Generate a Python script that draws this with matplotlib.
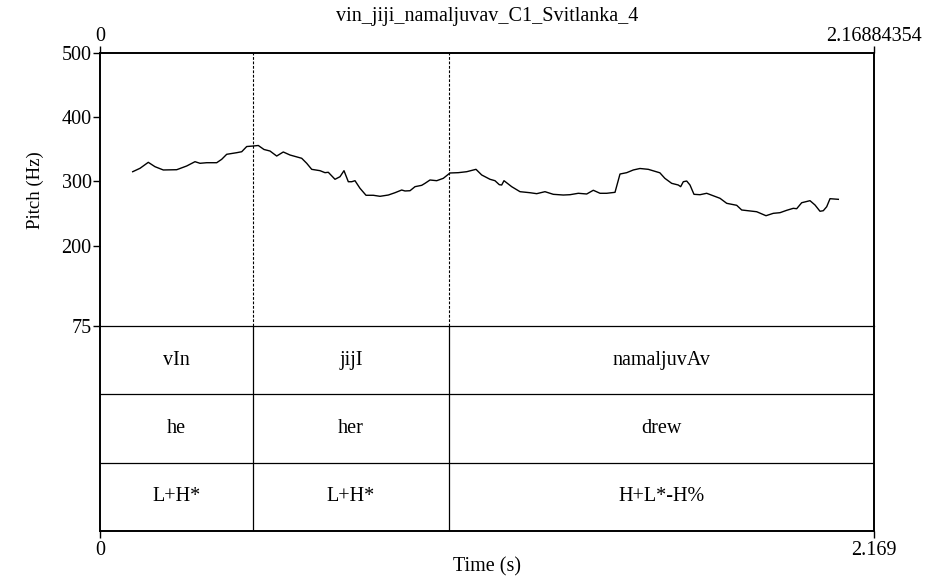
import matplotlib
matplotlib.use("Agg")
import matplotlib.pyplot as plt

# ---- data ----
title = "vin_jiji_namaljuvav_C1_Svitlanka_4"
t_start, t_end = 0.0, 2.16884354

pitch_time = [0.0916, 0.1121, 0.1353, 0.1541, 0.1774, 0.2149, 0.2429, 0.2662, 0.2802, 0.2990,
              0.3270, 0.3410, 0.3550, 0.3831, 0.3971, 0.4111, 0.4296, 0.4436, 0.4595, 0.4764,
              0.4951, 0.5136, 0.5324, 0.5652, 0.5792, 0.5932, 0.6165, 0.6305, 0.6397, 0.6585,
              0.6725, 0.6837, 0.6958, 0.7053, 0.7145, 0.7285, 0.7454, 0.7658, 0.7846, 0.8079,
              0.8266, 0.8454, 0.8546, 0.8687, 0.8827, 0.9014, 0.9107, 0.9247, 0.9435, 0.9620,
              0.9807, 1.0040, 1.0275, 1.0536, 1.0696, 1.0928, 1.1068, 1.1189, 1.1256, 1.1320,
              1.1536, 1.1769, 1.2049, 1.2237, 1.2469, 1.2702, 1.2982, 1.3170, 1.3403, 1.3638,
              1.3823, 1.4011, 1.4198, 1.4431, 1.4571, 1.4759, 1.4944, 1.5131, 1.5364, 1.5688,
              1.5828, 1.6019, 1.6204, 1.6271, 1.6345, 1.6440, 1.6532, 1.6644, 1.6813, 1.7000,
              1.7373, 1.7561, 1.7841, 1.7981, 1.8401, 1.8662, 1.8866, 1.9054, 1.9242, 1.9427,
              1.9522, 1.9662, 1.9895, 2.0035, 2.0175, 2.0268, 2.0363, 2.0456, 2.0689]
pitch_hz = [315.2, 320.5, 329.8, 323.0, 317.9, 318.3, 324.1, 330.8, 328.3, 329.2,
            329.2, 334.5, 342.3, 344.8, 346.3, 354.4, 355.2, 356.0, 349.8, 347.4,
            339.6, 345.9, 341.2, 336.1, 328.3, 318.9, 316.8, 313.7, 314.3, 303.4,
            307.4, 316.8, 299.6, 299.6, 301.2, 289.4, 278.5, 278.5, 276.9, 278.9,
            282.5, 286.7, 285.2, 285.6, 291.9, 294.0, 297.1, 302.3, 301.2, 304.9,
            313.2, 313.7, 315.2, 318.9, 310.1, 303.4, 301.2, 295.0, 294.5, 301.2,
            291.9, 284.1, 282.5, 281.0, 284.1, 280.0, 278.9, 279.4, 281.6, 280.5,
            286.3, 281.6, 281.6, 283.1, 311.6, 313.7, 317.9, 320.2, 318.9, 313.5,
            304.9, 297.1, 294.5, 291.9, 299.6, 300.7, 294.5, 280.0, 279.4, 281.6,
            273.8, 266.0, 262.9, 255.6, 252.9, 246.7, 250.4, 251.4, 255.1, 258.2,
            257.6, 266.9, 270.1, 263.4, 253.6, 254.5, 260.7, 273.2, 272.2]

boundaries = [0.4287, 0.9780]
tier1 = ["vIn", "jijI", "namaljuvAv"]
tier2 = ["he", "her", "drew"]
tier3 = ["L+H*", "L+H*", "H+L*-H%"]
pitch_ticks = [500, 400, 300, 200, 75]
ymin, ymax = 75, 500

# ---- figure ----
plt.rcParams['font.family'] = ['Liberation Serif', 'DejaVu Serif']
W, H = 929, 579
fig = plt.figure(figsize=(W / 100, H / 100), dpi=100)

L, R = 100 / W, 874 / W
top_px, mid_px, bot_px = 53, 326, 531
ax = fig.add_axes([L, 1 - mid_px / H, R - L, (mid_px - top_px) / H])
axt = fig.add_axes([L, 1 - bot_px / H, R - L, (bot_px - mid_px) / H])

fs = 14.5
fs_tick = 14.5
lw_frame = 1.4

# pitch panel
ax.plot(pitch_time, pitch_hz, color='black', lw=1.0)
for b in boundaries:
    ax.axvline(b, color='black', lw=0.8, ls=(0, (2.5, 1.5)))
ax.set_xlim(t_start, t_end)
ax.set_ylim(ymin, ymax)
ax.set_yticks(pitch_ticks)
ax.set_yticklabels([str(v) for v in pitch_ticks], fontsize=fs_tick)
ax.xaxis.set_ticks_position('top')
ax.set_xticks([t_start, t_end])
ax.set_xticklabels(["0", "2.16884354"], fontsize=fs_tick)
ax.tick_params(axis='y', direction='out', length=5, width=1.0, pad=1)
ax.tick_params(axis='x', direction='out', length=5, width=1.0, pad=0)
for s in ax.spines.values():
    s.set_linewidth(lw_frame)
ax.spines['bottom'].set_visible(False)

# tier panel
axt.patch.set_visible(False)
axt.set_xlim(t_start, t_end)
axt.set_ylim(3, 0)
for b in boundaries:
    axt.axvline(b, color='black', lw=0.9)
for yv in [1, 2]:
    axt.axhline(yv, color='black', lw=0.9)
edges = [t_start] + boundaries + [t_end]
for row, labels in enumerate([tier1, tier2, tier3]):
    for i, lab in enumerate(labels):
        axt.text((edges[i] + edges[i + 1]) / 2, row + 0.5, lab,
                 ha='center', va='center', fontsize=fs)
axt.set_yticks([])
axt.set_xticks([t_start, 2.169])
axt.set_xticklabels(["0", "2.169"], fontsize=fs_tick)
axt.tick_params(axis='x', direction='out', length=5, width=1.0, pad=2)
for s in axt.spines.values():
    s.set_linewidth(lw_frame)
axt.spines['top'].set_linewidth(0.9)

fig.text((L + R) / 2, 1 - 16 / H, title, ha='center', va='center', fontsize=fs)
fig.text((L + R) / 2, 1 - 567 / H, "Time (s)", ha='center', va='center', fontsize=fs)
fig.text(35 / W, 1 - 190 / H, "Pitch (Hz)", ha='center', va='center',
         rotation=90, fontsize=13.5)

fig.savefig("out.png", dpi=100)
